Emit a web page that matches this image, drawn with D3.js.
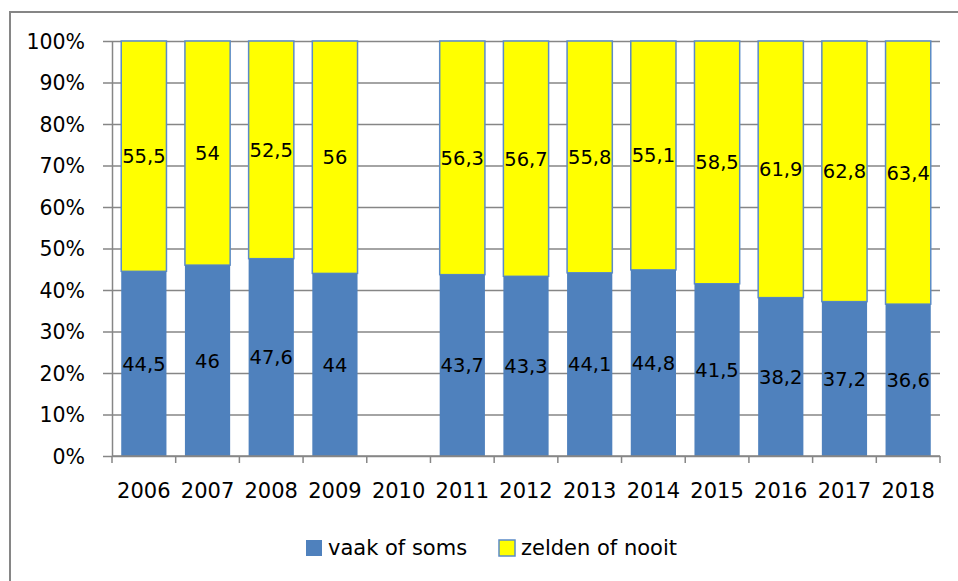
<!DOCTYPE html>
<html>
<head>
<meta charset="utf-8">
<script src="https://cdn.jsdelivr.net/npm/d3@7"></script>
<style>
  body { margin: 0; background: #fff; }
  svg text { font-family: "DejaVu Sans", sans-serif; fill: #000; }
</style>
</head>
<body>
<div id="chart"></div>
<script>
// chart data
const years = ['2006', '2007', '2008', '2009', '2010', '2011', '2012', '2013', '2014', '2015', '2016', '2017', '2018']
const vaakOfSoms = [44.5, 46, 47.6, 44, null, 43.7, 43.3, 44.1, 44.8, 41.5, 38.2, 37.2, 36.6]
const zeldenOfNooit = [55.5, 54, 52.5, 56, null, 56.3, 56.7, 55.8, 55.1, 58.5, 61.9, 62.8, 63.4]
const seriesNames = ['vaak of soms', 'zelden of nooit']
const yTicks = [0, 0.1, 0.2, 0.3, 0.4, 0.5, 0.6, 0.7, 0.8, 0.9, 1]

const [width, height] = [958, 581]
const margin = { top: 41, left: 112, right: 18, bottom: 125 }
const blue = '#4F81BD'
const yellow = '#FFFF00'
const grid = '#868686'

const svg = d3.select('#chart').append('svg')
    .attr('width', width)
    .attr('height', height)

// outer chart border
svg.append('rect')
    .attr('x', 10).attr('y', 12)
    .attr('width', width).attr('height', height)
    .attr('fill', 'none')
    .attr('stroke', grid)
    .attr('stroke-width', 2)

const x = d3.scaleBand()
    .domain(years)
    .range([margin.left, width - margin.right])
    .paddingInner(0.29)
    .paddingOuter(0.145)

const y = d3.scaleLinear()
    .domain([0, 1])
    .range([height - margin.bottom, margin.top])

// gridlines + y axis
const yAxis = d3.axisLeft(y)
    .tickValues(yTicks)
    .tickFormat(d3.format('.0%'))
    .tickSize(-(width - margin.right - margin.left))
    .tickSizeOuter(0)

const gy = svg.append('g')
    .attr('transform', `translate(${margin.left},0)`)
    .call(yAxis)
gy.select('.domain').attr('stroke', grid).attr('stroke-width', 1.5)
gy.selectAll('.tick line').attr('stroke', grid).attr('stroke-width', 1.5).attr('x1', -9)
gy.selectAll('.tick text')
    .attr('x', -27)
    .attr('dy', '0.36em')
    .style('font-size', '20.5px')

// stacked data (normalised to 100%)
const rows = years.map((yr, i) => {
    const a = vaakOfSoms[i], b = zeldenOfNooit[i]
    return { year: yr, a: a, b: b, total: (a || 0) + (b || 0) }
}).filter(d => d.total > 0)

const bars = svg.append('g')

bars.selectAll('rect.zelden')
    .data(rows)
    .join('rect')
    .attr('class', 'zelden')
    .attr('x', d => x(d.year))
    .attr('width', x.bandwidth())
    .attr('y', y(1))
    .attr('height', d => y(d.a / d.total) - y(1))
    .attr('fill', yellow)
    .attr('stroke', '#5B8BC7')
    .attr('stroke-width', 1.5)

bars.selectAll('rect.vaak')
    .data(rows)
    .join('rect')
    .attr('class', 'vaak')
    .attr('x', d => x(d.year))
    .attr('width', x.bandwidth())
    .attr('y', d => y(d.a / d.total))
    .attr('height', d => y(0) - y(d.a / d.total))
    .attr('fill', blue)

const fmt = v => String(v).replace('.', ',')

bars.selectAll('text.lblA')
    .data(rows)
    .join('text')
    .attr('class', 'lblA')
    .attr('x', d => x(d.year) + x.bandwidth() / 2)
    .attr('y', d => y(d.a / d.total / 2))
    .attr('dy', '0.36em')
    .attr('text-anchor', 'middle')
    .style('font-size', '19.5px')
    .text(d => fmt(d.a))

bars.selectAll('text.lblB')
    .data(rows)
    .join('text')
    .attr('class', 'lblB')
    .attr('x', d => x(d.year) + x.bandwidth() / 2)
    .attr('y', d => y((d.a / d.total + 1) / 2))
    .attr('dy', '0.36em')
    .attr('text-anchor', 'middle')
    .style('font-size', '19.5px')
    .text(d => fmt(d.b))

// x axis with ticks at band boundaries
const gx = svg.append('g')
    .attr('transform', `translate(0,${y(0)})`)
gx.append('line')
    .attr('x1', margin.left).attr('x2', width - margin.right)
    .attr('stroke', grid).attr('stroke-width', 1.5)
const step = x.step()
const bounds = d3.range(years.length + 1).map(i => margin.left + i * step)
gx.selectAll('line.tk')
    .data(bounds)
    .join('line')
    .attr('class', 'tk')
    .attr('x1', d => d).attr('x2', d => d)
    .attr('y1', 0).attr('y2', 7)
    .attr('stroke', grid).attr('stroke-width', 1.5)
gx.selectAll('text')
    .data(years)
    .join('text')
    .attr('x', d => x(d) + x.bandwidth() / 2)
    .attr('y', 42)
    .attr('text-anchor', 'middle')
    .style('font-size', '21px')
    .text(d => d)

// legend
const legend = svg.append('g')
const legendX = [306, 499]
const colors = [blue, yellow]
legend.selectAll('rect')
    .data(seriesNames)
    .join('rect')
    .attr('x', (d, i) => legendX[i])
    .attr('y', 540)
    .attr('width', 16).attr('height', 16)
    .attr('fill', (d, i) => colors[i])
    .attr('stroke', (d, i) => i === 1 ? '#5B8BC7' : 'none')
    .attr('stroke-width', 1.5)
legend.selectAll('text')
    .data(seriesNames)
    .join('text')
    .attr('x', (d, i) => legendX[i] + 22)
    .attr('y', 555)
    .style('font-size', '21px')
    .text(d => d)
</script>
</body>
</html>
